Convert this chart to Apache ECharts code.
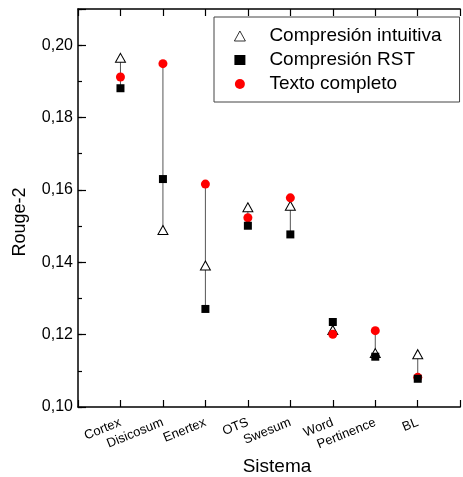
<!DOCTYPE html>
<html>
<head>
<meta charset="utf-8">
<script src="https://cdn.jsdelivr.net/npm/echarts@6/dist/echarts.min.js"></script>
<style>html,body{margin:0;padding:0;background:#fff;}#c{width:463px;height:477px;}</style>
</head>
<body>
<div id="c"></div>
<script>
var categories = ['Cortex', 'Disicosum', 'Enertex', 'OTS', 'Swesum', 'Word', 'Pertinence', 'BL'];
var intuitiva = [0.1965, 0.1489, 0.1391, 0.1552, 0.1556, 0.1213, 0.1149, 0.1146];
var rst = [0.1881, 0.1630, 0.1271, 0.1501, 0.1477, 0.1235, 0.1139, 0.1078];
var completo = [0.1912, 0.1949, 0.1616, 0.1523, 0.1578, 0.1201, 0.1211, 0.1082];
var yTicks = [0.10, 0.12, 0.14, 0.16, 0.18, 0.20];

var FONT = 'Liberation Sans';
function pts(arr){ return arr.map(function(v,i){ return [i+1, v]; }); }
var ranges = categories.map(function(c,i){
  var vals=[intuitiva[i], rst[i], completo[i]];
  return [i+1, Math.min.apply(null,vals), Math.max.apply(null,vals)];
});

var chart = echarts.init(document.getElementById('c'), null, {renderer:'canvas'});
var axisLineStyle = {color:'#000', width:1.5};
chart.setOption({
  animation:false,
  backgroundColor:'#fff',
  grid:{left:78, top:9, bottom:70, right:-8.5},
  legend:{
    orient:'vertical', left:214, top:17,
    padding:[9,18,8,20], itemGap:4, itemWidth:11, itemHeight:10,
    borderColor:'#444', borderWidth:1,
    itemStyle:{borderWidth:0.8},
    data:['Compresión intuitiva','Compresión RST','Texto completo'],
    textStyle:{fontFamily:FONT, fontSize:19, color:'#000', lineHeight:20, padding:[0,0,0,19]}
  },
  xAxis:[{
    type:'value', min:0, max:9, interval:1, position:'bottom',
    axisLine:{show:true, lineStyle:axisLineStyle},
    axisTick:{show:true, inside:true, length:7, lineStyle:{color:'#000', width:1.2}},
    splitLine:{show:false},
    axisLabel:{rotate:22, margin:15, fontFamily:FONT, fontSize:13, color:'#000',
      formatter:function(v){ return categories[v-1] || ''; }}
  },{
    type:'value', min:0, max:9, interval:1, position:'top',
    axisLine:{show:true, lineStyle:axisLineStyle},
    axisTick:{show:true, inside:true, length:7, lineStyle:{color:'#000', width:1.2}},
    splitLine:{show:false}, axisLabel:{show:false}
  }],
  yAxis:[{
    type:'value', min:0.10, max:0.21, interval:0.02,
    axisLine:{show:true, lineStyle:axisLineStyle},
    axisTick:{show:true, inside:true, length:8, lineStyle:{color:'#000', width:1.2}},
    splitLine:{show:false},
    axisLabel:{margin:5, fontFamily:FONT, fontSize:16, color:'#000',
      formatter:function(v){
        var r=Math.round(v*100);
        if (r%2!==0 || yTicks.indexOf(r/100)<0) return '';
        return (r/100).toFixed(2).replace('.',',');
      }}
  },{
    type:'value', min:0.10, max:0.21, interval:0.01, position:'left',
    axisLine:{show:false},
    axisTick:{show:true, inside:true, length:4, lineStyle:{color:'#000', width:1.2}},
    splitLine:{show:false}, axisLabel:{show:false}
  }],
  graphic:[
    {type:'text', x:20, y:222, rotation:Math.PI/2,
      style:{text:'Rouge-2', fontFamily:FONT, fontSize:18, fill:'#000', align:'center', verticalAlign:'middle'}},
    {type:'text', x:277, y:467,
      style:{text:'Sistema', fontFamily:FONT, fontSize:19, fill:'#000', align:'center', verticalAlign:'middle'}}
  ],
  series:[
    {type:'custom', name:'range', data:ranges, z:1, silent:true,
      renderItem:function(params, api){
        var a=api.coord([api.value(0), api.value(1)]);
        var b=api.coord([api.value(0), api.value(2)]);
        return {type:'line', shape:{x1:a[0],y1:a[1],x2:b[0],y2:b[1]},
          style:{stroke:'#555', lineWidth:1}};
      }},
    {type:'scatter', name:'Compresión intuitiva', data:pts(intuitiva), z:3,
      symbol:'triangle', symbolSize:[10,9],
      itemStyle:{color:'#fff', borderColor:'#000', borderWidth:1, opacity:1}},
    {type:'scatter', name:'Texto completo', data:pts(completo), z:4,
      symbol:'circle', symbolSize:9,
      itemStyle:{color:'#ff0000', opacity:1}},
    {type:'scatter', name:'Compresión RST', data:pts(rst), z:5,
      symbol:'rect', symbolSize:8,
      itemStyle:{color:'#000', opacity:1}}
  ]
});
</script>
</body>
</html>
